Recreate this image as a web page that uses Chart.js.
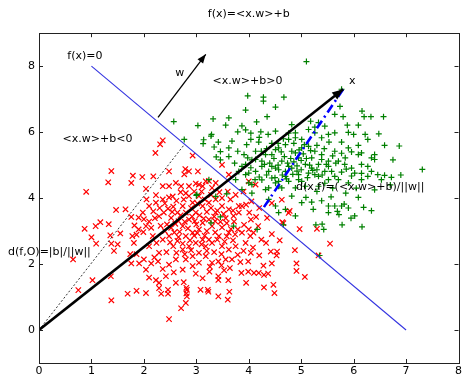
<!DOCTYPE html>
<html>
<head>
<meta charset="utf-8">
<script src="https://cdn.jsdelivr.net/npm/chart.js@4.4.1/dist/chart.umd.min.js"></script>
<style>html,body{margin:0;padding:0;background:#fff}</style>
</head>
<body>
<canvas id="chart" width="464" height="377"></canvas>
<script>
// tick values
const xTicks = [0, 1, 2, 3, 4, 5, 6, 7, 8];
const yTicks = [0, 2, 4, 6, 8];

// class <x.w>+b<0 (red x)
const redPts = [
  [2.36,5.75],[2.31,5.63],[2.22,5.37],[2.93,5.29],[2.79,4.88],[2.77,4.72],[1.38,4.82],[1.32,4.48],[0.90,4.19],
  [1.79,4.68],[1.76,4.46],[1.97,4.64],[2.18,4.66],[2.04,4.28],[2.36,4.36],[2.48,4.36],[2.61,4.46],[2.71,4.36],
  [2.86,4.36],[2.80,4.15],[2.99,4.44],[3.12,4.36],[3.24,4.52],[3.37,4.46],[3.49,5.01],[2.55,4.05],[2.23,4.09],
  [2.48,4.81],[3.03,4.81],[2.86,4.81],[3.18,4.51],[3.05,4.41],[3.30,4.31],[3.62,4.71],[4.00,4.51],[4.13,4.41],
  [1.47,3.64],[1.65,3.66],[1.76,3.43],[0.87,3.07],[1.08,3.15],[1.17,3.27],[1.33,3.21],[1.00,2.81],[1.09,2.62],
  [1.36,2.87],[1.55,2.93],[1.38,2.62],[1.50,2.60],[1.43,2.40],[0.65,2.14],[1.74,2.30],[1.76,2.02],[1.02,1.51],
  [0.75,1.21],[1.37,1.63],[1.38,0.90],[1.69,1.10],[1.86,1.19],[2.04,1.12],[2.29,1.27],[2.33,1.10],[2.46,1.10],
  [2.48,0.33],[1.82,3.17],[1.90,3.05],[1.86,2.89],[1.99,2.97],[2.04,3.15],[2.10,3.29],[2.21,3.39],[2.29,3.45],
  [2.38,3.56],[2.46,3.68],[2.56,3.74],[2.64,3.56],[2.10,3.76],[2.23,3.86],[2.36,3.96],[2.48,4.02],[2.05,3.96],
  [1.98,3.56],[1.90,3.41],[2.17,2.85],[2.24,2.64],[2.36,2.74],[2.48,2.85],[2.56,2.54],[2.43,2.36],[2.29,2.34],
  [2.10,2.54],[2.00,2.14],[1.91,2.02],[2.04,1.83],[2.10,1.59],[2.23,1.51],[2.36,1.85],[2.48,1.98],[2.61,2.14],
  [2.57,1.75],[2.42,1.63],[2.29,1.43],[2.46,1.22],[2.61,1.43],[2.14,2.02],[2.27,2.08],[1.81,2.64],[1.86,2.30],
  [1.78,2.85],[2.76,1.45],[2.82,1.22],[2.82,1.02],[2.80,0.82],[2.71,0.66],[3.22,1.22],[3.42,1.02],[3.60,0.92],
  [3.63,1.16],[3.95,1.43],[4.29,1.29],[4.47,1.37],[4.49,1.12],[5.07,1.61],[4.91,1.79],[4.91,2.02],[4.88,2.42],
  [4.54,2.38],[4.53,2.26],[4.42,2.38],[4.20,2.26],[4.44,2.91],[4.64,3.27],[4.44,2.02],[4.28,1.95],[4.37,1.71],
  [4.29,1.67],[4.19,1.73],[4.10,1.73],[3.99,1.77],[3.86,1.73],[3.99,2.08],[4.04,2.34],[4.08,2.50],[3.94,2.64],
  [4.03,2.85],[4.09,2.95],[4.00,3.05],[3.91,3.19],[4.01,3.56],[4.04,3.35],[4.18,3.15],[4.14,3.43],[3.81,3.76],
  [3.87,3.76],[3.71,3.46],[3.72,3.29],[3.56,3.39],[3.49,3.76],[3.65,3.96],[3.49,4.00],[3.37,3.96],[3.62,3.66],
  [3.37,3.56],[3.24,3.35],[3.12,3.25],[3.30,3.15],[3.49,3.11],[3.62,2.95],[3.43,2.85],[3.30,2.64],[3.49,2.54],
  [3.62,2.44],[3.75,2.54],[3.79,2.28],[3.68,2.14],[3.56,2.14],[3.42,2.08],[3.30,2.04],[3.25,1.77],[3.42,1.63],
  [3.61,1.51],[3.53,1.81],[3.12,1.57],[2.99,1.71],[2.93,1.94],[3.05,2.04],[3.18,2.24],[3.05,2.34],[2.93,2.24],
  [2.80,2.14],[2.74,1.83],[2.74,2.44],[2.86,2.54],[2.99,2.64],[3.12,2.74],[3.18,2.54],[2.80,2.85],[2.93,2.95],
  [3.05,3.05],[2.74,3.15],[2.86,3.35],[2.99,3.56],[3.12,3.76],[3.24,3.86],[2.93,3.86],[2.74,3.76],[2.80,3.56],
  [3.05,4.06],[2.86,4.06],[3.81,3.56],[3.79,3.05],[3.87,2.95],[4.24,2.74],[4.33,2.64],[5.30,3.07],[5.55,2.62],
  [5.33,2.26],[4.97,3.06],[4.78,3.61],[4.66,3.24],[4.59,2.72],[3.08,1.22],[3.23,1.16],[3.42,1.52],[2.81,1.28],
  [2.81,1.11],[4.44,3.85],[4.63,3.95],[4.76,3.55],[3.75,4.10],[3.90,4.20],[4.05,3.90],[3.60,4.20],[4.20,3.70],
  [4.35,3.40],[3.95,3.80],[2.66,3.30],[2.52,3.10],[2.68,2.98],[3.20,3.00],[3.36,3.30],[2.64,2.70],[3.00,3.20],
  [2.52,3.40],[2.60,3.22],[2.70,3.48],[2.78,3.28],[2.84,3.08],[2.92,3.44],[2.97,3.30],[3.06,3.48],[3.14,3.38],
  [3.20,3.58],[3.28,3.70],[3.34,3.44],[3.40,3.62],[3.46,3.28],[3.52,3.52],[3.58,3.24],[3.66,3.06],[3.70,3.62],
  [2.44,3.20],[2.58,2.96],[2.66,2.82],[2.74,2.62],[2.88,2.72],[2.96,2.86],[3.02,2.94],[3.10,2.60],[3.16,2.86],
  [3.24,2.74],[3.36,2.96],[3.40,2.74],[3.54,2.68],[3.58,2.84],[3.70,2.72],[3.74,2.90],[2.40,3.00],[2.32,3.16],
  [2.54,3.58],[2.62,3.92],[2.76,3.96],[2.90,3.70],[3.02,3.84],[3.16,3.96],[3.28,4.10],[3.44,4.18],[3.10,4.20],
  [2.96,4.20],[2.70,4.18],[2.40,3.84],[2.30,3.70],[2.18,3.60],[2.14,3.10],[2.00,3.36],[2.62,2.34],[2.78,2.30],
  [2.90,2.42],[3.20,2.40],[3.34,2.36],[3.48,2.30],[3.26,1.92],[3.48,1.96],[3.64,1.88],[3.84,2.06],[3.90,2.40],
  [2.50,2.66],[2.20,2.20]
];

// class <x.w>+b>0 (green +)
const greenPts = [
  [2.57,6.32],[3.32,6.40],[3.03,6.20],[3.28,5.88],[3.13,5.65],[3.34,5.55],[2.77,5.78],[3.46,5.41],[3.38,5.25],
  [3.24,4.56],[3.01,4.11],[3.37,4.05],[3.58,4.13],[3.98,7.10],[4.28,7.06],[4.67,7.06],[4.51,6.76],[4.35,6.47],
  [4.15,6.31],[3.62,6.43],[3.56,6.21],[3.87,6.19],[3.94,6.07],[3.79,6.01],[4.04,5.97],[4.23,6.01],[4.37,5.93],
  [4.51,6.03],[4.76,5.97],[4.82,6.23],[4.89,5.83],[3.29,5.93],[3.14,5.77],[3.42,5.70],[3.68,5.73],[3.62,5.52],
  [3.79,5.42],[3.96,5.62],[4.19,5.70],[4.13,5.42],[4.32,5.32],[3.91,5.32],[3.62,5.26],[3.46,5.16],[3.73,5.06],
  [3.94,5.02],[4.06,5.16],[4.25,5.12],[4.44,5.32],[4.57,5.52],[4.70,5.62],[4.82,5.42],[5.01,5.52],[4.95,5.22],
  [5.08,5.02],[4.63,5.12],[4.51,4.91],[4.38,4.81],[4.70,4.81],[4.82,4.91],[4.95,4.71],[4.13,4.81],[3.94,4.71],
  [3.81,4.81],[4.25,4.55],[4.44,4.61],[4.57,4.51],[4.76,4.51],[5.01,4.51],[4.89,4.31],[4.63,4.31],[4.38,4.31],
  [4.06,4.41],[5.77,7.30],[5.74,6.78],[5.64,6.54],[5.80,6.47],[6.16,6.64],[6.20,6.47],[6.33,6.47],[6.57,6.47],
  [5.88,6.21],[6.09,6.21],[5.90,5.99],[6.00,5.93],[6.22,5.93],[6.48,5.95],[6.27,5.78],[5.77,5.70],[5.53,5.70],
  [5.39,5.83],[5.26,6.15],[5.33,6.29],[5.18,6.33],[6.59,5.60],[6.87,5.58],[6.09,5.60],[5.90,5.52],[5.77,5.36],
  [5.64,5.42],[6.09,5.32],[6.40,5.32],[6.34,5.22],[6.75,5.16],[7.31,4.87],[6.15,5.02],[5.96,4.91],[5.83,5.02],
  [5.71,5.12],[5.52,5.12],[5.39,5.32],[5.26,5.42],[5.20,5.22],[5.33,5.02],[5.45,4.81],[5.58,4.81],[5.77,4.79],
  [6.34,4.81],[6.46,4.71],[6.59,4.69],[6.72,4.63],[6.15,4.75],[5.96,4.67],[5.26,4.71],[5.20,4.91],[5.52,5.93],
  [4.51,5.47],[4.76,4.96],[4.57,4.86],[4.89,5.37],[5.01,5.78],[5.14,5.57],[5.39,5.17],[5.52,4.96],[6.02,4.76],
  [6.27,4.96],[6.40,5.17],[6.15,5.37],[5.64,5.98],[5.45,6.18],[5.26,5.98],[5.14,6.08],[4.89,5.98],[4.76,5.78],
  [4.25,4.96],[4.13,5.17],[4.00,4.76],[3.87,4.96],[3.75,4.56],[4.00,4.46],[4.51,4.46],[4.70,4.66],[4.95,4.56],
  [5.14,4.76],[5.33,4.66],[5.52,4.56],[5.71,4.56],[5.90,4.46],[6.15,4.56],[6.27,4.66],[6.53,4.56],[5.08,4.36],
  [5.33,4.36],[4.57,4.36],[4.32,4.26],[4.06,4.15],[3.87,4.26],[5.10,8.14],[4.28,6.94],[3.94,6.67],[3.00,4.08],
  [3.46,3.43],[3.28,3.25],[3.71,3.15],[4.16,3.05],[4.38,3.96],[4.51,3.76],[4.57,3.56],[4.70,3.66],[4.82,4.06],
  [4.89,3.46],[5.01,3.86],[5.09,4.02],[4.66,3.19],[5.20,3.88],[5.39,3.92],[5.23,3.66],[5.52,3.76],[5.52,3.56],
  [5.64,3.76],[5.69,3.60],[5.72,3.50],[5.77,3.76],[5.82,3.82],[5.90,3.70],[5.95,3.39],[6.02,3.46],[6.19,3.72],
  [6.34,3.62],[5.28,3.19],[5.40,3.21],[5.43,3.05],[5.78,3.19],[6.16,3.13],[5.35,2.26],[6.09,4.02],[5.57,4.04],
  [5.30,4.20],[5.60,4.30],[5.85,4.15],[6.05,4.30],[6.40,4.25],[6.70,4.40],[5.45,4.45],[6.90,4.70],
  [4.40,5.06],[4.48,5.20],[4.56,5.00],[4.62,5.40],[4.68,5.26],[4.74,5.06],[4.80,5.20],[4.86,5.10],[4.92,4.98],
  [5.00,5.14],[5.04,5.34],[5.10,5.20],[5.16,5.00],[5.22,4.84],[5.30,4.86],[5.00,4.86],[4.92,4.82],[4.84,4.72],
  [4.72,4.58],[4.64,4.70],[4.50,4.62],[4.44,4.96],[4.30,5.02],[4.34,4.70],[4.20,4.64],[4.12,4.56],[4.96,5.46],
  [5.06,5.62],[4.86,5.66],[4.66,5.80],[4.44,5.66],[4.34,5.50],[4.24,5.42],[4.56,5.66],[5.18,5.44],[5.30,5.60],
  [5.44,5.50],[5.60,5.28],[5.66,5.06],[5.48,5.02],[5.40,4.70],[5.64,4.66],[5.86,4.88],[5.84,5.22],[5.96,5.40],
  [4.04,4.92],[3.98,5.22],[4.20,5.84],[4.04,5.78],[5.12,4.62]
];

// geometry of the figure (data units)
const boundaryLine = [[1, 8], [7, 0]];
const wVector = [[2.27, 6.45], [3.18, 8.36]];
const xVector = [[0, 0], [5.8, 7.3]];
const projection = [[5.8, 7.3], [4.27, 3.68]];
const originDistance = [[0, 0], [2.77, 5.62]];

const notes = [
  { text: 'f(x)=0', x: 0.54, y: 8.31 },
  { text: 'w', x: 2.60, y: 7.80 },
  { text: '<x.w>+b>0', x: 3.31, y: 7.55 },
  { text: 'x', x: 5.91, y: 7.55 },
  { text: '<x.w>+b<0', x: 0.45, y: 5.78 },
  { text: 'd(x,f)=(<x.w>+b)/||w||', x: 4.90, y: 4.33 },
  { text: 'd(f,O)=|b|/||w||', x: -0.59, y: 2.37 }
];

const FONT = 'DejaVu Sans';
const toXY = (pts) => pts.map(([x, y]) => ({ x, y }));

const lineSet = (pts, color, width, dash, arrowHead) => ({
  data: toXY(pts),
  showLine: true,
  borderColor: color,
  backgroundColor: color,
  borderWidth: width,
  borderDash: dash,
  pointRadius: 0,
  arrowHead: arrowHead,
  order: 0
});

const arrowPlugin = {
  id: 'arrowHeads',
  afterDatasetsDraw(chart) {
    const ctx = chart.ctx;
    chart.data.datasets.forEach((ds, i) => {
      if (!ds.arrowHead) return;
      const pts = chart.getDatasetMeta(i).data;
      const a = pts[pts.length - 2], b = pts[pts.length - 1];
      const ang = Math.atan2(b.y - a.y, b.x - a.x);
      const [len, half] = ds.arrowHead;
      ctx.save();
      ctx.fillStyle = ds.borderColor;
      ctx.translate(b.x, b.y);
      ctx.rotate(ang);
      ctx.beginPath();
      ctx.moveTo(0, 0);
      ctx.lineTo(-len, half);
      ctx.lineTo(-len, -half);
      ctx.closePath();
      ctx.fill();
      ctx.restore();
    });
  }
};

const framePlugin = {
  id: 'frame',
  afterDraw(chart) {
    const { ctx, chartArea: a, scales: { x, y } } = chart;
    ctx.save();
    ctx.strokeStyle = '#222';
    ctx.lineWidth = 1;
    ctx.strokeRect(Math.round(a.left) + 0.5, Math.round(a.top) + 0.5,
      Math.round(a.right - a.left), Math.round(a.bottom - a.top));
    ctx.beginPath();
    xTicks.forEach(v => {
      const px = Math.round(x.getPixelForValue(v)) + 0.5;
      ctx.moveTo(px, a.bottom); ctx.lineTo(px, a.bottom - 4);
      ctx.moveTo(px, a.top); ctx.lineTo(px, a.top + 4);
    });
    yTicks.forEach(v => {
      const py = Math.round(y.getPixelForValue(v)) + 0.5;
      ctx.moveTo(a.left, py); ctx.lineTo(a.left + 4, py);
      ctx.moveTo(a.right, py); ctx.lineTo(a.right - 4, py);
    });
    ctx.stroke();

    // text annotations
    ctx.fillStyle = '#000';
    ctx.font = '11px "' + FONT + '"';
    ctx.textAlign = 'left';
    ctx.textBaseline = 'middle';
    notes.forEach(n => {
      ctx.fillText(n.text, x.getPixelForValue(n.x), y.getPixelForValue(n.y));
    });
    ctx.restore();
  }
};

new Chart(document.getElementById('chart'), {
  type: 'scatter',
  data: {
    datasets: [
      lineSet(xVector, '#000000', 2.6, [], [11, 4.5]),
      lineSet(wVector, '#000000', 1.3, [], [9, 3.5]),
      lineSet(projection, '#0000ff', 2.6, [9, 4, 2, 4], null),
      lineSet(originDistance, '#000000', 0.8, [2, 2], null),
      lineSet(boundaryLine, '#3434e0', 1.1, [], null),
      {
        data: toXY(greenPts),
        pointStyle: 'cross',
        pointRadius: 3,
        borderColor: '#008000',
        backgroundColor: '#008000',
        pointBorderWidth: 1.2,
        order: 1
      },
      {
        data: toXY(redPts),
        pointStyle: 'crossRot',
        pointRadius: 3.8,
        borderColor: '#ff0000',
        backgroundColor: '#ff0000',
        pointBorderWidth: 1.2,
        order: 2
      }
    ]
  },
  options: {
    responsive: false,
    animation: false,
    events: [],
    layout: { padding: { left: 0, right: 3, top: 0, bottom: 0 } },
    plugins: {
      legend: { display: false },
      tooltip: { enabled: false },
      title: {
        display: true,
        text: 'f(x)=<x.w>+b',
        fullSize: false,
        color: '#000',
        font: { family: FONT, size: 11, weight: 'normal' },
        padding: { top: 8, bottom: 12 }
      }
    },
    scales: {
      x: {
        type: 'linear',
        min: 0,
        max: 8,
        grid: { display: false, drawTicks: false },
        border: { display: false },
        ticks: { color: '#000', padding: 2, font: { family: FONT, size: 11 } },
        afterBuildTicks: (s) => { s.ticks = xTicks.map(v => ({ value: v })); },
        afterFit: (s) => { s.height = 14; }
      },
      y: {
        type: 'linear',
        min: -1,
        max: 9,
        grid: { display: false, drawTicks: false },
        border: { display: false },
        ticks: { color: '#000', padding: 4, font: { family: FONT, size: 11 } },
        afterBuildTicks: (s) => { s.ticks = yTicks.map(v => ({ value: v })); },
        afterFit: (s) => { s.width = 39; }
      }
    }
  },
  plugins: [arrowPlugin, framePlugin]
});
</script>
</body>
</html>
